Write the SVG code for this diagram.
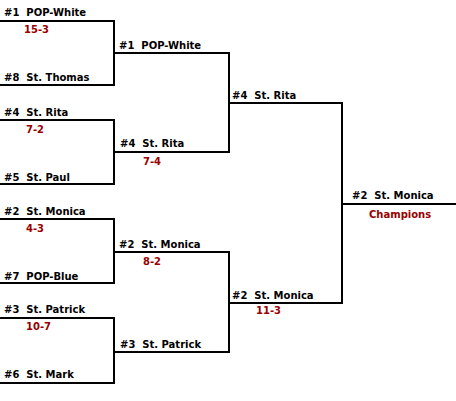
<svg xmlns="http://www.w3.org/2000/svg" width="456" height="401" viewBox="0 0 456 401">
<style>
text{font-family:"DejaVu Sans",Verdana,sans-serif;font-weight:bold;font-size:10px;white-space:pre}
.t{fill:#000}
.s{fill:#990000}
.c{fill:none;stroke:#000;stroke-width:2}
</style>
<rect width="456" height="401" fill="#fff"/>
<g id="connectors">
<path class="c" d="M0 21H114V85H0"/>
<path class="c" d="M0 120H114V184H0"/>
<path class="c" d="M0 219H114V283H0"/>
<path class="c" d="M0 318H114V383H0"/>
<path class="c" d="M114 53H229V152H114"/>
<path class="c" d="M114 252H229V352H114"/>
<path class="c" d="M229 103H342V303H229"/>
<path class="c" d="M342 204H456"/>
</g>
<g id="r1-1"><text class="t" x="4" y="16">#1  POP-White</text><text class="s" x="24" y="33">15-3</text><text class="t" x="4" y="81">#8  St. Thomas</text></g>
<g id="r1-2"><text class="t" x="4" y="116">#4  St. Rita</text><text class="s" x="26" y="133">7-2</text><text class="t" x="4" y="181">#5  St. Paul</text></g>
<g id="r1-3"><text class="t" x="4" y="215">#2  St. Monica</text><text class="s" x="26" y="232">4-3</text><text class="t" x="4" y="280">#7  POP-Blue</text></g>
<g id="r1-4"><text class="t" x="4" y="313">#3  St. Patrick</text><text class="s" x="26" y="330">10-7</text><text class="t" x="4" y="378">#6  St. Mark</text></g>
<g id="r2-1"><text class="t" x="119" y="49">#1  POP-White</text><text class="t" x="120" y="147">#4  St. Rita</text><text class="s" x="143" y="165">7-4</text></g>
<g id="r2-2"><text class="t" x="119" y="248">#2  St. Monica</text><text class="s" x="143" y="265">8-2</text><text class="t" x="120" y="348">#3  St. Patrick</text></g>
<g id="r3"><text class="t" x="232" y="99">#4  St. Rita</text><text class="t" x="232" y="299">#2  St. Monica</text><text class="s" x="256" y="314">11-3</text></g>
<g id="champion"><text class="t" x="352" y="199">#2  St. Monica</text><text class="s" x="369" y="218">Champions</text></g>
</svg>
